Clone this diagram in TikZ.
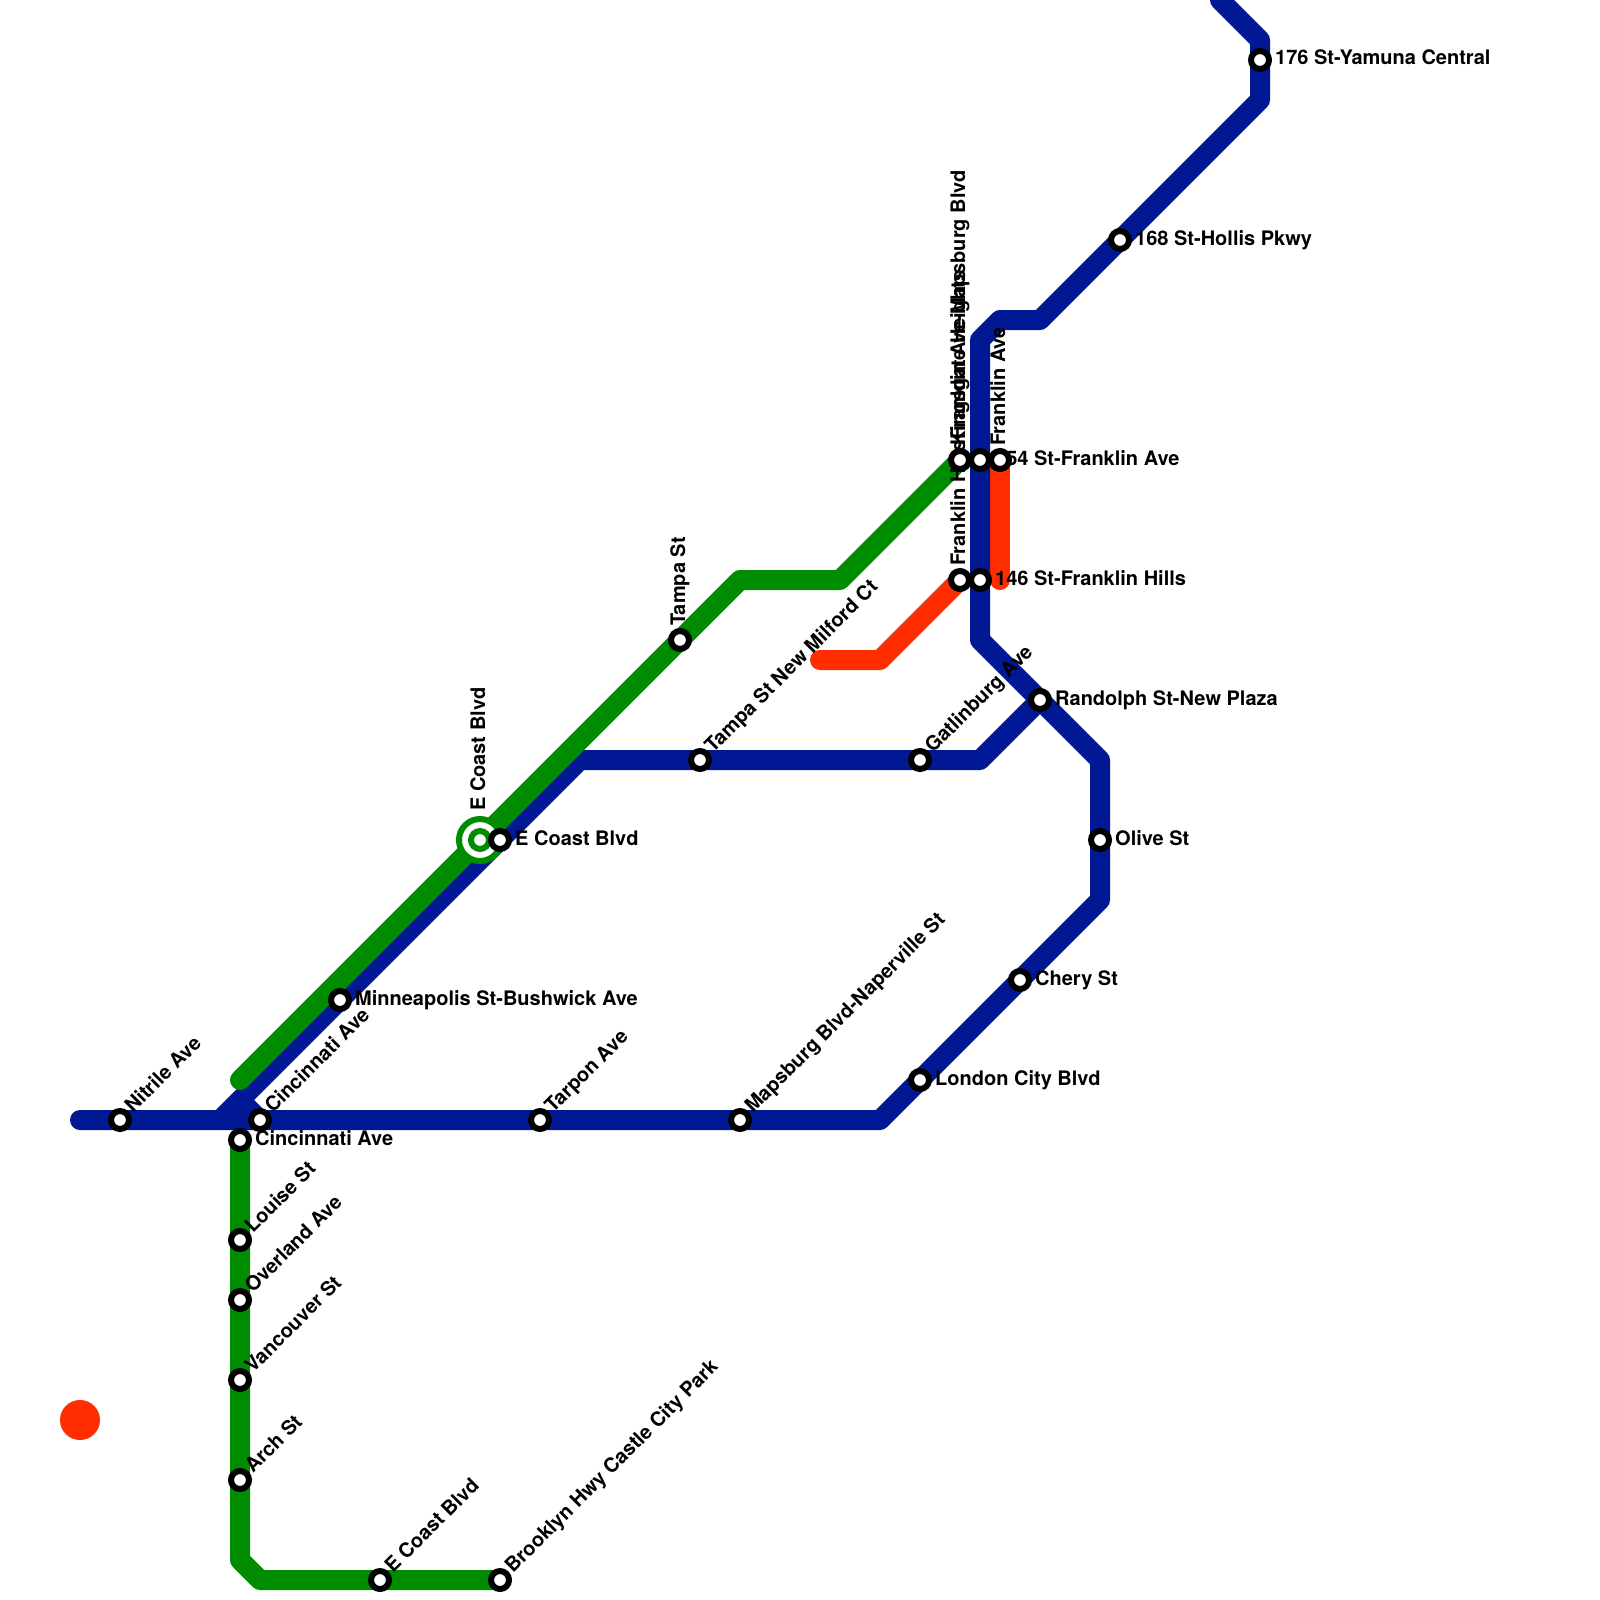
\documentclass[tikz,border=0pt]{standalone}
\usepackage{fontspec}
\setmainfont{TeX Gyre Heros}
\definecolor{lblue}{RGB}{0,24,148}
\definecolor{lgreen}{RGB}{0,140,0}
\definecolor{lred}{RGB}{255,45,0}
\tikzset{
  x=1pt,y=-1pt,
  lineb/.style={draw=lblue,line width=20pt,line cap=round,line join=round},
  lineg/.style={draw=lgreen,line width=20pt,line cap=round,line join=round},
  liner/.style={draw=lred,line width=20pt,line cap=round,line join=round},
  stn/.style={circle,draw=black,fill=white,line width=6pt,minimum size=18pt,inner sep=0pt},
  stng/.style={circle,draw=lgreen,fill=white,line width=6pt,minimum size=18pt,inner sep=0pt},
  lab/.style={inner sep=0pt,font=\bfseries\fontsize{20}{22}\selectfont,text=black},
  labr/.style={lab,anchor=base west,xshift=15pt,yshift=-5pt},
  labd/.style={lab,anchor=base west,xshift=13pt,yshift=6pt,rotate=45},
  labu/.style={lab,anchor=base west,xshift=5pt,yshift=14pt,rotate=90},
  labuv/.style={lab,anchor=base west,xshift=5pt,yshift=20pt,rotate=90},
  labuu/.style={lab,anchor=base west,xshift=5pt,yshift=29pt,rotate=90},
}
\begin{document}
\begin{tikzpicture}
\useasboundingbox (0,0) rectangle (1600,1600);
\fill[white] (0,0) rectangle (1600,1600);
% coordinates
\coordinate (b0) at (80,1120); \coordinate (b1) at (880,1120); \coordinate (b2) at (1100,900);
\coordinate (b3) at (1100,760); \coordinate (b4) at (980,640); \coordinate (b5) at (980,340);
\coordinate (b6) at (1000,320); \coordinate (b7) at (1040,320); \coordinate (b8) at (1260,100);
\coordinate (b9) at (1260,40); \coordinate (b10) at (1220,0);
\coordinate (c0) at (221,1119); \coordinate (c1) at (580,760); \coordinate (c2) at (980,760);
\coordinate (c3) at (1040,700); \coordinate (c4) at (240,1100); \coordinate (c5) at (260,1120);
\coordinate (g0) at (240,1140); \coordinate (g1) at (240,1560); \coordinate (g2) at (260,1580); \coordinate (g3) at (500,1580);
\coordinate (h0) at (240,1080); \coordinate (h1) at (740,580); \coordinate (h2) at (840,580); \coordinate (h3) at (960,460);
\coordinate (r0) at (820,660); \coordinate (r1) at (880,660); \coordinate (r2) at (960,580);
\coordinate (s0) at (1000,460); \coordinate (s1) at (1000,580);
% lines
\draw[liner] (s0) -- (s1);
\draw[liner] (r0) -- (r1) -- (r2);
\draw[lineb] (b0) -- (b1) -- (b2) -- (b3) -- (b4) -- (b5) -- (b6) -- (b7) -- (b8) -- (b9) -- (b10);
\draw[lineb,line cap=butt] (c0) -- (c1) -- (c2) -- (c3);
\draw[lineb,line cap=butt] (c4) -- (c5);
\draw[lineg] (g0) -- (g1) -- (g2) -- (g3);
\draw[lineg] (h0) -- (h1) -- (h2) -- (h3);
\fill[lred] (80,1420) circle[radius=20];
% labels
\node[labd] (tA) at (120,1120) {Nitrile Ave};
\node[labd] (tB) at (260,1120) {Cincinnati Ave};
\node[labr] (tC) at (240,1140) {Cincinnati Ave};
\node[labd] (tD) at (240,1240) {Louise St};
\node[labd] (tE) at (240,1300) {Overland Ave};
\node[labd] (tF) at (240,1380) {Vancouver St};
\node[labd] (tG) at (240,1480) {Arch St};
\node[labd] (tH) at (380,1580) {E Coast Blvd};
\node[labd] (tI) at (500,1580) {Brooklyn Hwy Castle City Park};
\node[labd] (tJ) at (540,1120) {Tarpon Ave};
\node[labd] (tK) at (740,1120) {Mapsburg Blvd-Naperville St};
\node[labr] (tL) at (920,1080) {London City Blvd};
\node[labr] (tM) at (1020,980) {Chery St};
\node[labr] (tN) at (1100,840) {Olive St};
\node[labr] (tO) at (1040,700) {Randolph St-New Plaza};
\node[labd] (tP) at (920,760) {Gatlinburg Ave};
\node[labd] (tQ) at (700,760) {Tampa St New Milford Ct};
\node[labu] (tR) at (680,640) {Tampa St};
\node[labuu] (tS) at (480,840) {E Coast Blvd};
\node[labr] (tT) at (500,840) {E Coast Blvd};
\node[labr] (tU) at (340,1000) {Minneapolis St-Bushwick Ave};
\node[labu] (tV) at (960,580) {Franklin Hills};
\node[labuv] (tW) at (960,460) {Franklin Ave-Mapsburg Blvd};
\node[labu] (tW2) at (960,460) {Kingsgate Heights};
\node[labr] (tX) at (980,580) {146 St-Franklin Hills};
\node[labr] (tY) at (980,460) {154 St-Franklin Ave};
\node[labu] (tZ) at (1000,460) {Franklin Ave};
\node[labr] (tAA) at (1120,240) {168 St-Hollis Pkwy};
\node[labr] (tAB) at (1260,60) {176 St-Yamuna Central};
% stations
\node[stng,minimum size=42pt] (iout) at (480,840) {};
\node[stng] (iin) at (480,840) {};
\foreach \n/\p in {sA/{120,1120},sB/{260,1120},sC/{240,1140},sD/{240,1240},sE/{240,1300},sF/{240,1380},sG/{240,1480},sH/{380,1580},sI/{500,1580},sJ/{540,1120},sK/{740,1120},sL/{920,1080},sM/{1020,980},sN/{1100,840},sO/{1040,700},sP/{920,760},sQ/{700,760},sR/{680,640},sT/{500,840},sU/{340,1000},sV/{960,580},sW/{960,460},sX/{980,580},sY/{980,460},sZ/{1000,460},sAA/{1120,240},sAB/{1260,60}}
  \node[stn] (\n) at (\p) {};
\end{tikzpicture}
\end{document}
